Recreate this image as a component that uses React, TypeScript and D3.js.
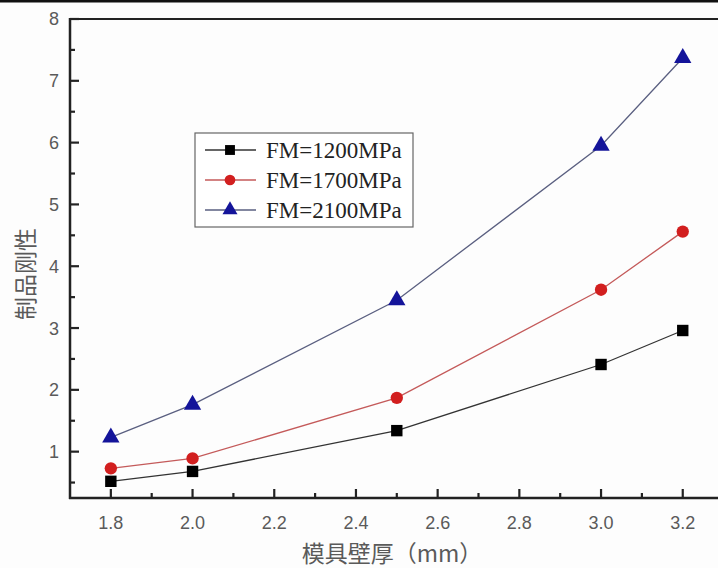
import React, { useEffect, useRef } from "react";
import * as d3 from "d3";

// wall thickness (mm)
const thickness = [1.8, 2.0, 2.5, 3.0, 3.2];
const fm1200 = [0.52, 0.68, 1.34, 2.41, 2.96];
const fm1700 = [0.73, 0.89, 1.87, 3.62, 4.56];
const fm2100 = [1.23, 1.76, 3.45, 5.95, 7.37];
const seriesNames = ["FM=1200MPa", "FM=1700MPa", "FM=2100MPa"];
const xTicks = [1.8, 2.0, 2.2, 2.4, 2.6, 2.8, 3.0, 3.2];
const yTicks = [1, 2, 3, 4, 5, 6, 7, 8];

const W = 718, H = 568;

export default function App() {
  const ref = useRef<SVGSVGElement>(null);

  useEffect(() => {
    const svg = d3.select(ref.current);
    svg.selectAll("*").remove();

    const x = d3.scaleLinear().domain([1.7, 3.3]).range([70, 723.6]);
    const y = d3.scaleLinear().domain([0.25, 8]).range([498, 19]);

    const series = [
      { name: seriesNames[0], values: fm1200, fill: "#000", line: "#333", shape: "square" },
      { name: seriesNames[1], values: fm1700, fill: "#d21f1f", line: "#c45a5a", shape: "circle" },
      { name: seriesNames[2], values: fm2100, fill: "#14149a", line: "#5a5f80", shape: "triangle" },
    ];

    svg.append("rect").attr("width", W).attr("height", H).attr("fill", "#fdfdfd");
    svg.append("rect").attr("width", W).attr("height", 2.5).attr("fill", "#111");

    const g = svg.append("g");

    // frame
    g.append("line").attr("x1", 70).attr("x2", W).attr("y1", 19).attr("y2", 19)
      .attr("stroke", "#222").attr("stroke-width", 2.2);
    g.append("line").attr("x1", 70).attr("x2", 70).attr("y1", 18).attr("y2", 499)
      .attr("stroke", "#222").attr("stroke-width", 2.5);
    g.append("line").attr("x1", 69).attr("x2", W).attr("y1", 498).attr("y2", 498)
      .attr("stroke", "#222").attr("stroke-width", 2.5);

    // y ticks
    const yMinor = d3.range(0.5, 8, 1);
    g.selectAll("line.ymaj").data(yTicks).join("line").attr("class", "ymaj")
      .attr("x1", 70).attr("x2", 79).attr("y1", d => y(d)).attr("y2", d => y(d))
      .attr("stroke", "#222").attr("stroke-width", 2.2);
    g.selectAll("line.ymin").data(yMinor).join("line").attr("class", "ymin")
      .attr("x1", 70).attr("x2", 75).attr("y1", d => y(d)).attr("y2", d => y(d))
      .attr("stroke", "#222").attr("stroke-width", 2.2);
    g.selectAll("text.ylab").data(yTicks).join("text").attr("class", "ylab")
      .attr("x", 59).attr("y", d => y(d)).attr("dy", "0.36em")
      .attr("text-anchor", "end").attr("font-family", "Liberation Sans, Arial, sans-serif")
      .attr("font-size", 18).attr("fill", "#5a5a5a").text(d => d);

    // x ticks
    const xMinor = d3.range(1.9, 3.3, 0.2);
    g.selectAll("line.xmaj").data(xTicks).join("line").attr("class", "xmaj")
      .attr("x1", d => x(d)).attr("x2", d => x(d)).attr("y1", 498).attr("y2", 489)
      .attr("stroke", "#222").attr("stroke-width", 2.2);
    g.selectAll("line.xmin").data(xMinor).join("line").attr("class", "xmin")
      .attr("x1", d => x(d)).attr("x2", d => x(d)).attr("y1", 498).attr("y2", 493)
      .attr("stroke", "#222").attr("stroke-width", 2.2);
    g.selectAll("text.xlab").data(xTicks).join("text").attr("class", "xlab")
      .attr("x", d => x(d)).attr("y", 529)
      .attr("text-anchor", "middle").attr("font-family", "Liberation Sans, Arial, sans-serif")
      .attr("font-size", 18).attr("fill", "#5a5a5a").text(d => d.toFixed(1));

    // axis titles
    g.append("text").attr("x", 392).attr("y", 562).attr("text-anchor", "middle")
      .attr("font-family", "Noto Sans CJK SC, sans-serif").attr("font-size", 23)
      .attr("fill", "#5a5a5a").text("模具壁厚（mm）");
    g.append("text").attr("transform", "translate(34,274) rotate(-90)")
      .attr("text-anchor", "middle").attr("font-family", "Noto Sans CJK SC, sans-serif")
      .attr("font-size", 23).attr("fill", "#5a5a5a").text("制品刚性");

    const symbol = (shape: string, size: number) => {
      const t = shape === "square" ? d3.symbolSquare : shape === "circle" ? d3.symbolCircle : d3.symbolTriangle;
      return d3.symbol().type(t).size(size)();
    };
    const sizes: Record<string, number> = { square: 130, circle: 120, triangle: 130 };

    const line = d3.line<number>().x((_, i) => x(thickness[i])).y(d => y(d));

    series.forEach(s => {
      g.append("path").attr("d", line(s.values)).attr("fill", "none")
        .attr("stroke", s.line).attr("stroke-width", 1.3);
      g.selectAll(null).data(s.values).join("path")
        .attr("transform", (d, i) => `translate(${x(thickness[i])},${y(d)})`)
        .attr("d", symbol(s.shape, sizes[s.shape])).attr("fill", s.fill);
    });

    // legend
    const lg = g.append("g");
    lg.append("rect").attr("x", 195).attr("y", 133).attr("width", 218).attr("height", 94)
      .attr("fill", "#fff").attr("stroke", "#666").attr("stroke-width", 1.2);
    series.forEach((s, i) => {
      const ly = 150 + i * 30;
      lg.append("line").attr("x1", 205).attr("x2", 256).attr("y1", ly).attr("y2", ly)
        .attr("stroke", s.line).attr("stroke-width", 1.3);
      lg.append("path").attr("transform", `translate(230,${ly})`)
        .attr("d", symbol(s.shape, sizes[s.shape] * 0.75)).attr("fill", s.fill);
      lg.append("text").attr("x", 266).attr("y", ly).attr("dy", "0.35em")
        .attr("font-family", "Liberation Serif, Times New Roman, serif")
        .attr("font-size", 23).attr("fill", "#222").text(s.name);
    });
  }, []);

  return (
    <svg ref={ref} width={W} height={H}
      style={{ position: "absolute", left: 0, top: 0, display: "block" }} />
  );
}
